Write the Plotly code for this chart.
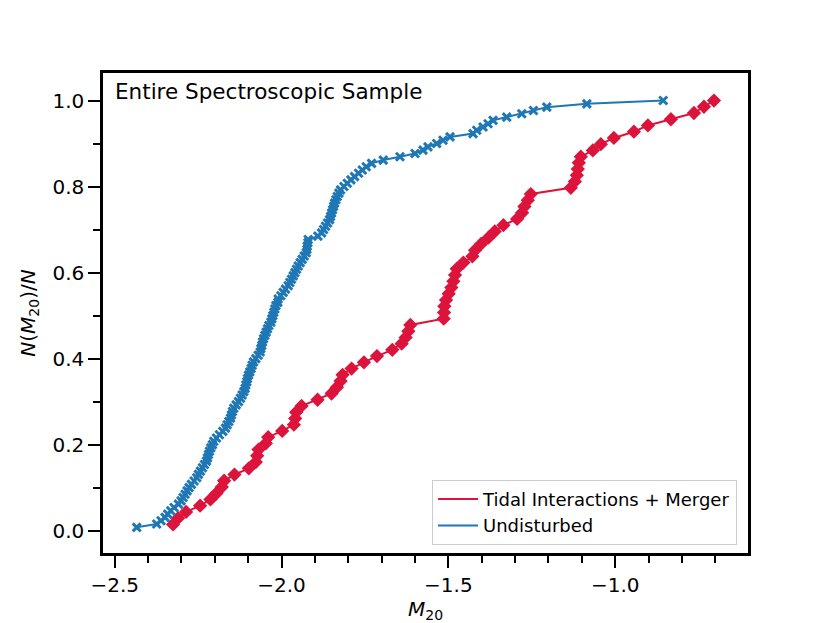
import numpy as np
import plotly.graph_objects as go

# M20 values, sorted (cumulative distributions)
tidal_m20 = [
    -2.325, -2.310, -2.286, -2.244, -2.213, -2.195, -2.179, -2.172, -2.141, -2.098,
    -2.077, -2.073, -2.069, -2.047, -2.040, -1.998, -1.963, -1.959, -1.956, -1.940,
    -1.892, -1.850, -1.834, -1.823, -1.817, -1.790, -1.753, -1.714, -1.668, -1.640,
    -1.628, -1.620, -1.614, -1.514, -1.513, -1.512, -1.507, -1.499, -1.491, -1.485,
    -1.480, -1.475, -1.455, -1.428, -1.420, -1.402, -1.380, -1.361, -1.335, -1.294,
    -1.279, -1.272, -1.262, -1.253, -1.133, -1.121, -1.115, -1.112, -1.109, -1.103,
    -1.067, -1.043, -1.004, -0.944, -0.902, -0.833, -0.764, -0.734, -0.704,
]

undisturbed_m20 = [
    -2.434, -2.374, -2.361, -2.349, -2.341, -2.332, -2.322, -2.309, -2.301, -2.295,
    -2.289, -2.283, -2.277, -2.270, -2.262, -2.254, -2.249, -2.243, -2.237, -2.231,
    -2.225, -2.222, -2.219, -2.216, -2.212, -2.207, -2.203, -2.195, -2.186, -2.176,
    -2.168, -2.163, -2.158, -2.153, -2.150, -2.147, -2.143, -2.136, -2.129, -2.123,
    -2.118, -2.113, -2.109, -2.107, -2.104, -2.102, -2.099, -2.095, -2.091, -2.088,
    -2.084, -2.077, -2.070, -2.064, -2.062, -2.059, -2.057, -2.054, -2.050, -2.046,
    -2.042, -2.038, -2.032, -2.029, -2.026, -2.023, -2.020, -2.017, -2.011, -2.010,
    -2.002, -1.995, -1.988, -1.980, -1.975, -1.970, -1.965, -1.960, -1.955, -1.950,
    -1.944, -1.938, -1.932, -1.926, -1.924, -1.923, -1.921, -1.920, -1.891, -1.880,
    -1.874, -1.868, -1.862, -1.856, -1.853, -1.850, -1.847, -1.844, -1.841, -1.837,
    -1.833, -1.828, -1.823, -1.813, -1.803, -1.792, -1.781, -1.769, -1.758, -1.746,
    -1.730, -1.695, -1.645, -1.600, -1.576, -1.561, -1.535, -1.516, -1.495, -1.426,
    -1.415, -1.396, -1.381, -1.366, -1.325, -1.280, -1.245, -1.205, -1.085, -0.856,
]

red = "#DC143C"
blue = "#1f77b4"


def cdf(vals):
    n = len(vals)
    return np.arange(1, n + 1) / n


fig = go.Figure()
fig.add_trace(go.Scatter(x=tidal_m20, y=cdf(tidal_m20), mode="lines+markers",
                         line=dict(color=red, width=2),
                         marker=dict(symbol="diamond", size=11, color=red),
                         showlegend=False))
fig.add_trace(go.Scatter(x=undisturbed_m20, y=cdf(undisturbed_m20), mode="lines+markers",
                         line=dict(color=blue, width=2),
                         marker=dict(symbol="x-thin", size=8, line=dict(color=blue, width=3)),
                         showlegend=False))

# legend shows only the line samples
fig.add_trace(go.Scatter(x=[None], y=[None], mode="lines", line=dict(color=red, width=2),
                         name="Tidal Interactions + Merger"))
fig.add_trace(go.Scatter(x=[None], y=[None], mode="lines", line=dict(color=blue, width=2),
                         name="Undisturbed"))

fig.add_annotation(text="Entire Spectroscopic Sample", xref="paper", yref="paper",
                   x=0.015, y=0.962, xanchor="left", yanchor="middle", showarrow=False,
                   font=dict(size=21.5, color="black"))

axis_common = dict(showline=True, linecolor="black", linewidth=2.5, mirror=True,
                   ticks="outside", ticklen=12, tickwidth=2, tickcolor="black",
                   showgrid=False, zeroline=False, tickfont=dict(size=20, color="black"))

fig.update_xaxes(range=[-2.535, -0.602], tick0=-2.5, dtick=0.5, tickformat=".1f",
                 minor=dict(dtick=0.1, ticks="outside", ticklen=7, tickwidth=1.5,
                            tickcolor="black", showgrid=False),
                 title=dict(text="<i>M</i><sub>20</sub>", font=dict(size=20, color="black"),
                            standoff=0),
                 **axis_common)
fig.update_yaxes(range=[-0.052, 1.064], tick0=0, dtick=0.2, tickformat=".1f",
                 minor=dict(dtick=0.1, ticks="outside", ticklen=7, tickwidth=1.5,
                            tickcolor="black", showgrid=False),
                 title=dict(text="<i>N</i>(<i>M</i><sub>20</sub>)/<i>N</i>",
                            font=dict(size=20, color="black"), standoff=12),
                 **axis_common)

# page body adds an 8px offset, so the figure is a bit smaller than the window
fig.update_layout(width=822, height=615,
                  margin=dict(l=95, r=82, t=65, b=70),
                  paper_bgcolor="white", plot_bgcolor="white",
                  font=dict(family="DejaVu Sans", color="black"),
                  legend=dict(x=0.983, y=0.017, xanchor="right", yanchor="bottom",
                              bgcolor="rgba(255,255,255,0.8)", bordercolor="#cccccc",
                              borderwidth=1, font=dict(size=18, color="black"),
                              itemwidth=40, tracegroupgap=0))

fig.write_html("out.html")
